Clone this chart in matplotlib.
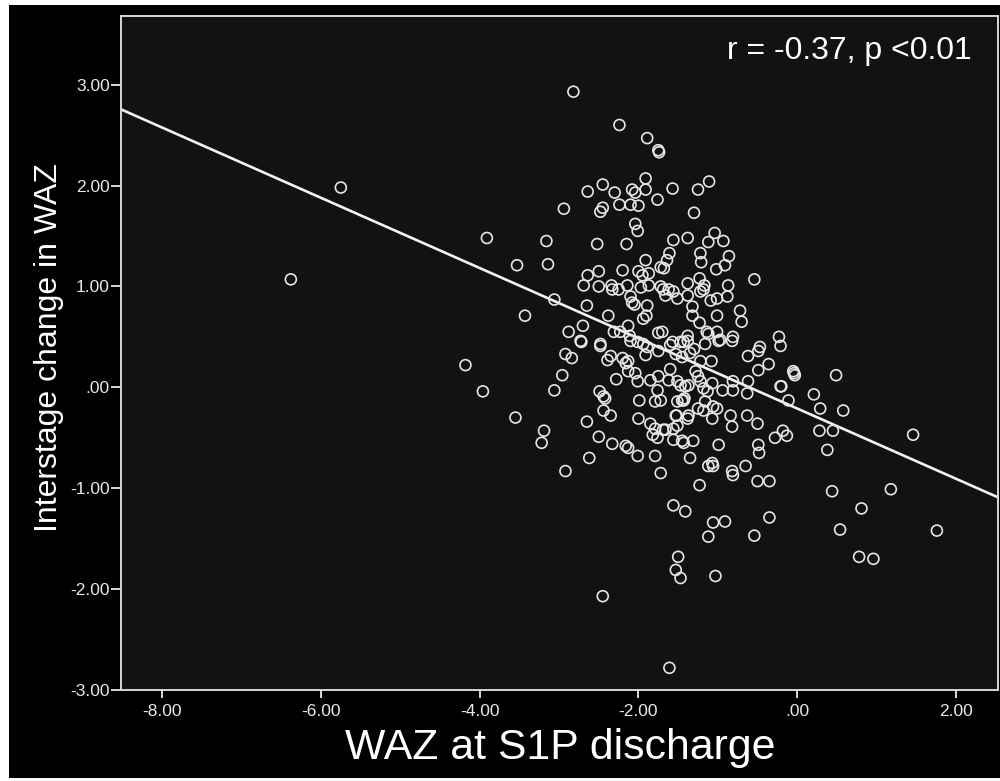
import numpy as np
import matplotlib.pyplot as plt
from matplotlib.patches import Rectangle

plt.rcParams['font.family'] = ['Liberation Sans', 'DejaVu Sans']

# WAZ at S1P discharge (x) and interstage change in WAZ (y)
waz = [
    -6.38, -5.75, -4.18, -3.96, -3.91, -3.53, -3.55, -3.43, -3.19, -3.22, -3.16,
    -3.14, -3.06, -3.06, -2.82, -2.94, -2.96, -2.92, -2.84, -2.92, -2.45, -1.61,
    -2.24, -1.89, -1.75, -1.74, -1.91, -2.45, -2.64, -2.30, -2.08, -2.04, -1.91,
    -1.57, -1.25, -1.11, -1.76, -2.45, -2.48, -2.24, -2.10, -2.00, -1.30, -2.04,
    -2.01, -2.52, -2.15, -1.56, -1.38, -1.04, -1.12, -0.93, -2.64, -2.50, -2.20,
    -1.91, -1.61, -1.64, -1.72, -1.68, -2.00, -1.87, -1.22, -1.21, -0.86, -0.91,
    -1.02, -2.69, -1.95, -2.50, -2.34, -2.33, -2.25, -2.14, -1.97, -1.87, -1.72,
    -1.69, -1.56, -1.38, -1.23, -1.17, -1.18, -1.22, -0.87, -0.54, -2.10, -2.08,
    -2.05, -1.89, -1.66, -1.62, -1.51, -1.38, -1.32, -1.09, -1.01, -0.88, -2.65,
    -2.38, -2.70, -2.88, -2.73, -2.48, -2.13, -1.94, -1.90, -1.75, -1.70, -1.32,
    -1.23, -1.14, -1.12, -1.01, -1.01, -0.97, -0.81, -0.72, -0.70, -1.38, -1.38,
    -1.47, -0.23, -0.21, -0.47, -2.11, -2.31, -2.23,
    -2.72, -2.48, -2.10, -2.01, -1.94, -1.89, -2.35, -2.39, -2.20, -2.16, -2.13,
    -1.57, -1.43, -1.16, -0.99, -0.82, -1.91, -1.75, -1.35, -1.08, -1.22, -0.62,
    -0.49, -0.36, -0.49, -0.05, -0.03, -2.28, -2.13, -2.04, -2.01, -1.85, -1.75,
    -1.76, -1.60, -1.62, -1.51, -1.47, -1.41, -1.37, -1.28, -1.25, -1.22, -1.18,
    -1.13, -1.07, -0.94, -0.81, -0.81, -0.63, -0.62, -0.21, -0.11, -2.49, -2.44,
    -2.42, -1.99, -1.79, -1.72, -1.51, -1.45, -1.42, -1.25, -1.18, -1.06, -1.01,
    -1.07, -2.44, -2.35, -2.65, -2.00, -1.85, -1.79, -1.53, -1.51, -1.56, -1.38,
    -1.37, -0.84, -0.82, -0.63, -0.50, -1.66, -1.82, -1.76, -1.56, -1.45, -1.43,
    -1.31, -2.50, -2.33, -2.16, -2.13, -2.01, -2.62, -1.79, -1.72, -1.35, -0.99,
    -1.07, -1.12, -1.06, -0.82, -0.81, -0.65, -0.49, -0.48, -0.28, -0.18, -0.13,
    -0.50, -0.35, -1.23, -1.56, -1.41, -0.35,
    0.49, -0.04, -0.20, 0.21, 0.29, 0.58, 0.28, 0.45, 0.38, 1.46, 0.44,
    1.18, 0.81, 0.54, 1.76, 0.78, 0.96, -0.54, -1.06, -0.91, -1.12, -1.50,
    -1.53, -1.47, -1.03, -1.60, -1.30, -1.53, -1.45, -1.43, -1.16, -1.52, -1.69,
]
change = [
    1.07, 1.98, 0.22, -0.04, 1.48, 1.21, -0.30, 0.71, -0.43, -0.55, 1.45,
    1.22, 0.87, -0.03, 2.93, 1.77, 0.12, 0.33, 0.29, -0.83, -2.07, -2.78,
    2.60, 2.47, 2.35, 2.33, 2.07, 2.01, 1.94, 1.93, 1.96, 1.93, 1.96,
    1.97, 1.96, 2.04, 1.86, 1.78, 1.74, 1.81, 1.81, 1.80, 1.73, 1.62,
    1.55, 1.42, 1.42, 1.46, 1.48, 1.53, 1.44, 1.45, 1.11, 1.15, 1.16,
    1.26, 1.33, 1.26, 1.19, 1.18, 1.15, 1.13, 1.33, 1.24, 1.30, 1.21,
    1.17, 1.01, 1.11, 1.00, 1.01, 0.97, 0.97, 1.01, 0.99, 1.01, 1.00,
    0.97, 0.95, 1.03, 1.08, 1.01, 0.97, 0.95, 1.01, 1.07, 0.90, 0.84,
    0.82, 0.81, 0.91, 0.97, 0.88, 0.91, 0.80, 0.86, 0.88, 0.90, 0.81,
    0.71, 0.61, 0.55, 0.46, 0.43, 0.61, 0.68, 0.71, 0.54, 0.55, 0.71,
    0.64, 0.55, 0.53, 0.71, 0.55, 0.47, 0.50, 0.76, 0.65, 0.51, 0.46,
    0.45, 0.50, 0.41, 0.40, 0.51, 0.55, 0.55,
    0.45, 0.41, 0.46, 0.45, 0.43, 0.40, 0.31, 0.27, 0.29, 0.24, 0.26,
    0.45, 0.45, 0.43, 0.46, 0.46, 0.32, 0.36, 0.34, 0.26, 0.26, 0.31,
    0.36, 0.23, 0.17, 0.16, 0.12, 0.08, 0.16, 0.14, 0.06, 0.07, 0.11,
    -0.03, 0.18, 0.07, 0.06, 0.02, 0.01, 0.02, 0.16, 0.11, 0.06, -0.01,
    -0.04, 0.04, -0.03, 0.06, -0.03, -0.06, 0.06, 0.01, -0.13, -0.04, -0.09,
    -0.11, -0.13, -0.14, -0.13, -0.14, -0.13, -0.11, -0.21, -0.23, -0.19, -0.21,
    -0.31, -0.23, -0.28, -0.34, -0.31, -0.36, -0.41, -0.28, -0.38, -0.41, -0.31,
    -0.28, -0.28, -0.39, -0.28, -0.36, -0.42, -0.47, -0.50, -0.52, -0.53, -0.55,
    -0.53, -0.49, -0.56, -0.58, -0.60, -0.68, -0.70, -0.68, -0.85, -0.70, -0.57,
    -0.75, -0.78, -0.78, -0.83, -0.87, -0.78, -0.57, -0.65, -0.50, -0.43, -0.48,
    -0.93, -0.93, -0.97, -1.17, -1.23, -1.29,
    0.12, 0.14, 0.01, -0.07, -0.21, -0.23, -0.43, -0.43, -0.62, -0.47, -1.03,
    -1.01, -1.20, -1.41, -1.42, -1.68, -1.70, -1.47, -1.34, -1.33, -1.48, -1.68,
    -1.81, -1.89, -1.87, 0.42, 0.38, 0.33, 0.30, -0.13, -0.14, -0.28, -0.42,
]

# fit line and stats printed on the chart
fit_intercept = -0.21
fit_slope = -0.348
stat_text = 'r = -0.37, p <0.01'

x_ticks = [-8, -6, -4, -2, 0, 2]
y_ticks = [-3, -2, -1, 0, 1, 2, 3]


def spss_fmt(v):
    s = '{:.2f}'.format(v)
    return s.replace('0.00', '.00') if v == 0 else s


fig = plt.figure(figsize=(10, 7.81), dpi=100, facecolor='white')
# black panel behind everything, leaving the thin white margin of the original
fig.add_artist(Rectangle((0.009, 0.004), 0.991, 0.99, transform=fig.transFigure,
                         facecolor='black', edgecolor='none', zorder=-10))

ax = fig.add_axes([0.121, 0.1165, 0.877, 0.863])
ax.set_facecolor('#121212')

ax.scatter(waz, change, s=62, facecolors='none', edgecolors='#e6e6e6', linewidths=1.2, zorder=3)

xlim = (-8.52, 2.53)
xs = np.array(xlim)
ax.plot(xs, fit_intercept + fit_slope * xs, color='#f2f2f2', lw=1.9, zorder=2)

ax.set_xlim(*xlim)
ax.set_ylim(-3.0, 3.68)
ax.set_xticks(x_ticks)
ax.set_xticklabels([spss_fmt(v) for v in x_ticks])
ax.set_yticks(y_ticks)
ax.set_yticklabels([spss_fmt(v) for v in y_ticks])

for sp in ax.spines.values():
    sp.set_color('#d8d8d8')
    sp.set_linewidth(1.4)
ax.tick_params(axis='both', colors='#d8d8d8', labelcolor='#e8e8e8', width=1.4, labelsize=12.5)
ax.tick_params(axis='y', length=7, pad=1)
ax.tick_params(axis='x', length=6, pad=4)

fig.text(0.56, 0.042, 'WAZ at S1P discharge', color='white', fontsize=30.8,
         ha='center', va='center')
fig.text(0.049, 0.555, 'Interstage change in WAZ', color='white', fontsize=23,
         ha='center', va='center', rotation=90)
ax.text(0.970, 0.948, stat_text, transform=ax.transAxes, color='white', fontsize=23,
        ha='right', va='center')

plt.savefig('out.png', dpi=100, facecolor=fig.get_facecolor())
